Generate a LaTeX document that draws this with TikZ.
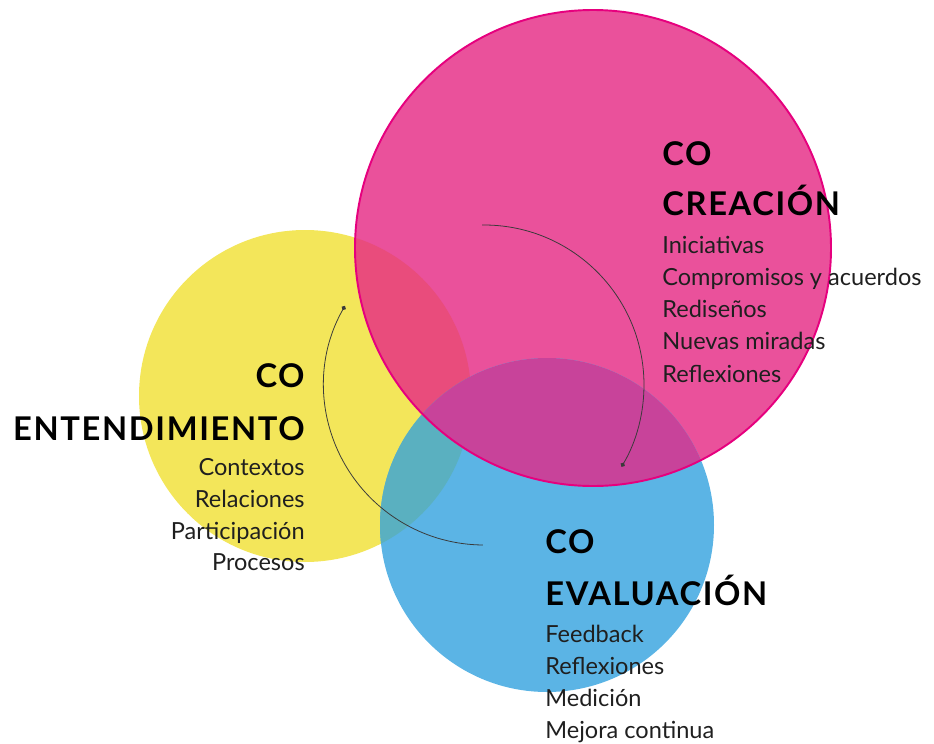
\documentclass[tikz,border=0pt]{standalone}
\usepackage{fontspec}
\setmainfont{Lato}
\newfontfamily\headfam[LetterSpace=5]{Lato}
\usetikzlibrary{arrows.meta}

\definecolor{cyel}{HTML}{F3E65A}
\definecolor{cmag}{HTML}{EA519B}
\definecolor{cblu}{HTML}{5BB4E5}
\definecolor{cyelmag}{HTML}{E94C7C}
\definecolor{cmagblu}{HTML}{C8439A}
\definecolor{cyelblu}{HTML}{5AB0C0}
\definecolor{cmagline}{HTML}{E6007E}
\definecolor{cloop}{HTML}{3A3A3A}

\tikzset{
	head/.style={font=\headfam\bfseries\fontsize{18.6}{20}\selectfont, inner sep=0pt},
	item/.style={font=\fontsize{13.4}{15}\selectfont, text=black!88, inner sep=0pt},
	loop/.style={draw=cloop, line width=0.45pt}
}

\begin{document}
\begin{tikzpicture}[x=0.02cm, y=-0.02cm]
	\useasboundingbox (0,0) rectangle (934,744);

	%circles
	\coordinate (ent) at (305,396);
	\coordinate (cre) at (593,248);
	\coordinate (eva) at (547,525);

	\fill[cyel] (ent) circle (166);
	\fill[cmag] (cre) circle (238);
	\fill[cblu] (eva) circle (167);

	%overlaps
	\begin{scope}
		\clip (ent) circle (166);
		\fill[cyelmag] (cre) circle (238);
		\fill[cyelblu] (eva) circle (167);
	\end{scope}
	\begin{scope}
		\clip (cre) circle (238);
		\fill[cmagblu] (eva) circle (167);
	\end{scope}

	\draw[cmagline, line width=1.1pt] (cre) circle (238);

	%loop
	\coordinate (loopc) at (484,385);
	\coordinate (a1) at ([shift={(-90.7:160)}]loopc);
	\coordinate (a2) at ([shift={(209.6:160)}]loopc);
	\draw[loop, -{Circle[length=2.6pt]}] (a1) arc[start angle=-90.7, end angle=30.7, radius=160];
	\draw[loop, {Circle[length=2.6pt]}-] (a2) arc[start angle=209.6, end angle=90.4, radius=160];

	%entendimiento
	\node[head, anchor=base east] (ent-h1) at (305,387) {CO};
	\node[head, anchor=base east] (ent-h2) at (305,440) {ENTENDIMIENTO};
	\foreach \txt [count=\i] in {Contextos, Relaciones, Participación, Procesos}
		\node[item, anchor=base east] (ent-\i) at (305,444+31.7*\i) {\txt};

	%creacion
	\node[head, anchor=base west] (cre-h1) at (662,165) {CO};
	\node[head, anchor=base west] (cre-h2) at (662,215) {CREACIÓN};
	\foreach \txt [count=\i] in {Iniciativas, Compromisos y acuerdos, Rediseños, Nuevas miradas, Reflexiones}
		\node[item, anchor=base west] (cre-\i) at (662,221+32.2*\i) {\txt};

	%evaluacion
	\node[head, anchor=base west] (eva-h1) at (545,553) {CO};
	\node[head, anchor=base west] (eva-h2) at (545,605) {EVALUACIÓN};
	\foreach \txt [count=\i] in {Feedback, Reflexiones, Medición, Mejora continua}
		\node[item, anchor=base west] (eva-\i) at (545,610+32*\i) {\txt};
\end{tikzpicture}
\end{document}
